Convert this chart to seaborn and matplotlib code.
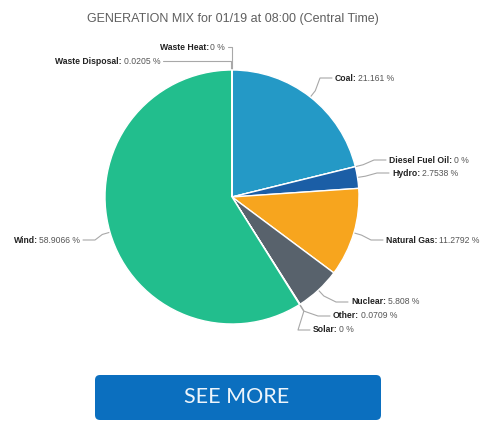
import numpy as np
import matplotlib
matplotlib.use("Agg")
import matplotlib.pyplot as plt
from matplotlib.patches import FancyBboxPatch
import seaborn as sns

# ---- data ----
sources = ["Coal", "Diesel Fuel Oil", "Hydro", "Natural Gas", "Nuclear",
           "Other", "Solar", "Wind", "Waste Disposal", "Waste Heat"]
values = [21.161, 0, 2.7538, 11.2792, 5.808, 0.0709, 0, 58.9066, 0.0205, 0]
value_text = ["21.161", "0", "2.7538", "11.2792", "5.808",
              "0.0709", "0", "58.9066", "0.0205", "0"]
colors = ["#2499c6", "#6e6e6e", "#1b5ea6", "#f7a51e", "#58626c",
          "#9aa4ad", "#f5d742", "#22be8d", "#8a5a3c", "#c0392b"]
title = "GENERATION MIX for 01/19 at 08:00 (Central Time)"
button_text = "SEE MORE"

# ---- layout (pixel units, y from top) ----
W, H = 488, 425
cx, cy_top, R = 232, 197, 127
label_pos = {
    "Coal": (335, 78, "left"),
    "Diesel Fuel Oil": (389, 160, "left"),
    "Hydro": (392, 173, "left"),
    "Natural Gas": (386, 240, "left"),
    "Nuclear": (351, 302, "left"),
    "Other": (333, 316, "left"),
    "Solar": (313, 330, "left"),
    "Wind": (80, 240, "right"),
    "Waste Disposal": (160, 61, "right"),
    "Waste Heat": (225, 47, "right"),
}

sns.set_theme(style="white")
plt.rcParams["font.family"] = ["Liberation Sans", "DejaVu Sans"]

fig = plt.figure(figsize=(W / 100, H / 100), dpi=100)
fig.patch.set_facecolor("white")
ax = fig.add_axes([0, 0, 1, 1])

wedges, _ = ax.pie(values, colors=colors, startangle=90, counterclock=False,
                   center=(cx, H - cy_top), radius=R,
                   wedgeprops=dict(edgecolor="white", linewidth=1.0))
ax.set_xlim(0, W)
ax.set_ylim(0, H)
ax.set_aspect("auto")
ax.axis("off")

ax.text(233, H - 19, title, ha="center", va="center", fontsize=9.0,
        color="#5f5f5f")

fig.canvas.draw()
renderer = fig.canvas.get_renderer()
fs = 6.2
line_col = "#a8a8a8"

for w, name, vt in zip(wedges, sources, value_text):
    lx, ly, side = label_pos[name]
    ly_d = H - ly
    mid = np.deg2rad((w.theta1 + w.theta2) / 2)
    ex = cx + R * np.cos(mid)
    ey = (H - cy_top) + R * np.sin(mid)
    if side == "left":
        t1 = ax.text(lx, ly_d, name + ":", ha="left", va="center",
                     fontsize=fs, fontweight="bold", color="#222222")
        bb = t1.get_window_extent(renderer)
        ax.text(bb.x1 + 1.5, ly_d, vt + " %", ha="left", va="center",
                fontsize=fs, color="#555555")
        end_x = lx - 3
    else:
        t2 = ax.text(lx, ly_d, vt + " %", ha="left", va="center",
                     fontsize=fs, color="#555555")
        bb = t2.get_window_extent(renderer)
        shift = bb.x1 - lx
        t2.set_x(lx - shift)
        bb = t2.get_window_extent(renderer)
        ax.text(bb.x0 - 1.5, ly_d, name + ":", ha="right", va="center",
                fontsize=fs, fontweight="bold", color="#222222")
        end_x = lx + 3
    if name == "Waste Heat":
        xs = [ex, ex, end_x]
        ys = [ey, ly_d, ly_d]
    elif name == "Waste Disposal":
        xs = [ex - 1, ex - 1, end_x]
        ys = [ey, ly_d, ly_d]
    else:
        ox = cx + (R + 8) * np.cos(mid)
        oy = (H - cy_top) + (R + 8) * np.sin(mid)
        kx = end_x - 12 if side == "left" else end_x + 12
        xs = [ex, ox, kx, end_x]
        ys = [ey, oy, ly_d, ly_d]
    ax.plot(xs, ys, color=line_col, lw=0.8, solid_capstyle="round",
            zorder=0.5)

# button
btn = FancyBboxPatch((95, H - 420), 286, 45,
                     boxstyle="round,pad=0,rounding_size=5",
                     facecolor="#0b6fbf", edgecolor="none")
ax.add_patch(btn)
ax.text(237, H - 397, button_text, ha="center", va="center", fontsize=15.5,
        color="#eef5fb", family=["Lato", "DejaVu Sans"])

fig.savefig("out.png", dpi=100, facecolor="white")
